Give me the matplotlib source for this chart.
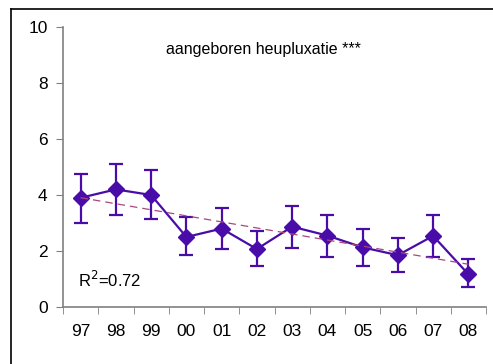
import matplotlib
matplotlib.use('Agg')
import matplotlib.pyplot as plt
import numpy as np
from matplotlib.lines import Line2D

plt.rcParams['font.family'] = ['Liberation Sans', 'DejaVu Sans']

years = ['97', '98', '99', '00', '01', '02', '03', '04', '05', '06', '07', '08']
rate = [3.9, 4.2, 4.0, 2.5, 2.8, 2.07, 2.87, 2.55, 2.13, 1.85, 2.54, 1.17]
upper = [4.75, 5.1, 4.9, 3.2, 3.53, 2.73, 3.62, 3.28, 2.8, 2.45, 3.28, 1.71]
lower = [3.0, 3.3, 3.15, 1.87, 2.07, 1.46, 2.12, 1.8, 1.46, 1.26, 1.8, 0.73]
title = 'aangeboren heupluxatie ***'

purple = '#4a0ca8'
grey = '#808080'

x = np.arange(len(years))
rate = np.array(rate)
yerr = [rate - np.array(lower), np.array(upper) - rate]

# linear trend and its R^2
slope, icpt = np.polyfit(x, rate, 1)
trend = slope * x + icpt
r2 = 1 - np.sum((rate - trend) ** 2) / np.sum((rate - rate.mean()) ** 2)

fig = plt.figure(figsize=(4.93, 3.64), dpi=100)
# frame around the chart area (only top and left edges fall inside the image)
bx, by = 10.5 / 493, 1 - 8.5 / 364
fig.lines.append(Line2D([bx, bx], [0, by], transform=fig.transFigure, color='black', linewidth=1.2))
fig.lines.append(Line2D([bx, 1], [by, by], transform=fig.transFigure, color='black', linewidth=1.2))

ax = fig.add_axes([63 / 493, 1 - 307 / 364, 423 / 493, 280 / 364])

ax.plot(x, trend, linestyle=(0, (6, 4)), color='#a8487a', linewidth=0.9, zorder=3)
ax.errorbar(x, rate, yerr=yerr, color=purple, linewidth=1.6, marker='D', markersize=8.5,
            capsize=5, capthick=1.6, elinewidth=1.6, zorder=2)

ax.set_xlim(-0.5, len(years) - 0.5)
ax.set_ylim(0, 10)
ax.set_yticks([0, 2, 4, 6, 8, 10])
ax.set_xticks(x)
ax.set_xticklabels(years)
ax.set_xticks(np.arange(len(years) + 1) - 0.5, minor=True)
ax.tick_params(axis='x', which='major', length=0, pad=12, labelsize=12.5)
ax.tick_params(axis='x', which='minor', length=5, color=grey, direction='out')
ax.tick_params(axis='y', length=5, color=grey, direction='out', pad=6, labelsize=12.5)

for side in ['top', 'right']:
    ax.spines[side].set_visible(False)
for side in ['left', 'bottom']:
    ax.spines[side].set_color(grey)
    ax.spines[side].set_linewidth(1.2)

ax.text(0.473, 0.918, title, transform=ax.transAxes, ha='center', va='center', fontsize=11.5)
ax.text(0.035, 0.096, 'R$^2$=%.2f' % r2, transform=ax.transAxes, ha='left', va='center', fontsize=12)

fig.savefig('out.png', dpi=100)
